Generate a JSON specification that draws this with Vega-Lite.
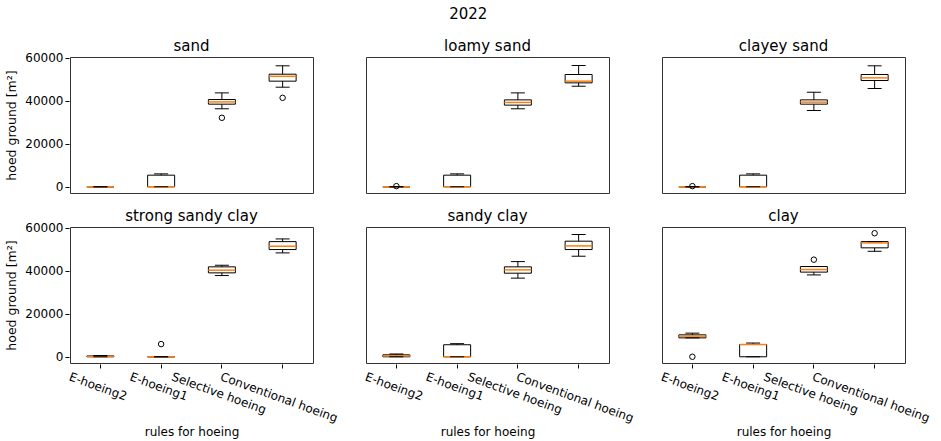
{
  "$schema": "https://vega.github.io/schema/vega-lite/v6.json",
  "background": "white",
  "padding": {"left": 5, "top": 6, "right": 5, "bottom": 2},
  "title": {"text": "2022", "fontSize": 15, "font": "DejaVu Sans", "fontWeight": "normal", "color": "black", "anchor": "middle", "offset": 17},
  "data": {"values": [
    {"soil": "sand", "rule": "E-hoeing2", "lo": 0, "q1": 0, "med": 0, "q3": 0, "hi": 0},
    {"soil": "sand", "rule": "E-hoeing1", "lo": 0, "q1": 0, "med": 0, "q3": 5400, "hi": 6000},
    {"soil": "sand", "rule": "Selective hoeing", "lo": 36300, "q1": 38450, "med": 39500, "q3": 40600, "hi": 43700},
    {"soil": "sand", "rule": "Conventional hoeing", "lo": 46350, "q1": 49150, "med": 51400, "q3": 52400, "hi": 56300},
    {"soil": "sand", "rule": "Selective hoeing", "out": 32100},
    {"soil": "sand", "rule": "Conventional hoeing", "out": 41400},
    {"soil": "loamy sand", "rule": "E-hoeing2", "lo": 0, "q1": 0, "med": 0, "q3": 0, "hi": 0},
    {"soil": "loamy sand", "rule": "E-hoeing1", "lo": 0, "q1": 0, "med": 0, "q3": 5400, "hi": 6000},
    {"soil": "loamy sand", "rule": "Selective hoeing", "lo": 36300, "q1": 38000, "med": 39250, "q3": 40450, "hi": 43700},
    {"soil": "loamy sand", "rule": "Conventional hoeing", "lo": 46800, "q1": 48360, "med": 49150, "q3": 52250, "hi": 56450},
    {"soil": "loamy sand", "rule": "E-hoeing2", "out": 300},
    {"soil": "clayey sand", "rule": "E-hoeing2", "lo": 0, "q1": 0, "med": 0, "q3": 0, "hi": 0},
    {"soil": "clayey sand", "rule": "E-hoeing1", "lo": 0, "q1": 0, "med": 0, "q3": 5400, "hi": 6000},
    {"soil": "clayey sand", "rule": "Selective hoeing", "lo": 35500, "q1": 38450, "med": 39400, "q3": 40450, "hi": 44000},
    {"soil": "clayey sand", "rule": "Conventional hoeing", "lo": 45750, "q1": 49450, "med": 50700, "q3": 52250, "hi": 56300},
    {"soil": "clayey sand", "rule": "E-hoeing2", "out": 300},
    {"soil": "strong sandy clay", "rule": "E-hoeing2", "lo": 0, "q1": 0, "med": 150, "q3": 400, "hi": 600},
    {"soil": "strong sandy clay", "rule": "E-hoeing1", "lo": 0, "q1": 0, "med": 0, "q3": 0, "hi": 0},
    {"soil": "strong sandy clay", "rule": "Selective hoeing", "lo": 37800, "q1": 39050, "med": 40300, "q3": 41850, "hi": 42600},
    {"soil": "strong sandy clay", "rule": "Conventional hoeing", "lo": 48350, "q1": 49900, "med": 51450, "q3": 53600, "hi": 54850},
    {"soil": "strong sandy clay", "rule": "E-hoeing1", "out": 5900},
    {"soil": "sandy clay", "rule": "E-hoeing2", "lo": 0, "q1": 0, "med": 400, "q3": 900, "hi": 1300},
    {"soil": "sandy clay", "rule": "E-hoeing1", "lo": 0, "q1": 0, "med": 0, "q3": 5600, "hi": 6100},
    {"soil": "sandy clay", "rule": "Selective hoeing", "lo": 36600, "q1": 38900, "med": 40450, "q3": 41850, "hi": 44300},
    {"soil": "sandy clay", "rule": "Conventional hoeing", "lo": 46800, "q1": 49900, "med": 51600, "q3": 53800, "hi": 56900},
    {"soil": "clay", "rule": "E-hoeing2", "lo": 8800, "q1": 8800, "med": 9600, "q3": 10200, "hi": 11000},
    {"soil": "clay", "rule": "E-hoeing1", "lo": 0, "q1": 0, "med": 5700, "q3": 5700, "hi": 6400},
    {"soil": "clay", "rule": "Selective hoeing", "lo": 38100, "q1": 39400, "med": 40600, "q3": 42000, "hi": 42000},
    {"soil": "clay", "rule": "Conventional hoeing", "lo": 49100, "q1": 50700, "med": 53000, "q3": 53600, "hi": 53600},
    {"soil": "clay", "rule": "E-hoeing2", "out": 0},
    {"soil": "clay", "rule": "Selective hoeing", "out": 45200},
    {"soil": "clay", "rule": "Conventional hoeing", "out": 57500}
  ]},
  "facet": {
    "field": "soil", "type": "nominal",
    "sort": ["sand", "loamy sand", "clayey sand", "strong sandy clay", "sandy clay", "clay"],
    "header": {"title": null, "labelFontSize": 15, "labelFont": "DejaVu Sans", "labelColor": "black", "labelPadding": 3}
  },
  "columns": 3,
  "spacing": {"column": 51, "row": 14},
  "spec": {
    "width": 243,
    "height": 136,
    "encoding": {
      "x": {
        "field": "rule", "type": "nominal",
        "sort": ["E-hoeing2", "E-hoeing1", "Selective hoeing", "Conventional hoeing"],
        "scale": {"paddingInner": 0, "paddingOuter": 0},
        "title": "rules for hoeing",
        "axis": {
          "labelAngle": 20, "labelAlign": "left", "labelBaseline": "top",
          "labelOffset": {"condition": [{"test": "datum.value === 'Selective hoeing'", "value": -48}, {"test": "datum.value === 'Conventional hoeing'", "value": -60}], "value": -29},
          "labelPadding": 3, "labelFontSize": 12, "labelFont": "DejaVu Sans", "labelColor": "black",
          "tickSize": 4, "tickColor": "black", "domain": false, "grid": false,
          "titleFontSize": 12, "titleFont": "DejaVu Sans", "titleFontWeight": "normal", "titleColor": "black", "titlePadding": 3
        }
      }
    },
    "layer": [
      {
        "transform": [{"filter": "isValid(datum.q1)"}],
        "mark": {"type": "rule", "color": "black", "strokeWidth": 1},
        "encoding": {
          "y": {"field": "lo", "type": "quantitative"},
          "y2": {"field": "hi"}
        }
      },
      {
        "transform": [{"filter": "isValid(datum.q1)"}],
        "mark": {"type": "bar", "fill": "white", "stroke": "black", "strokeWidth": 1, "width": 27},
        "encoding": {
          "y": {"field": "q1", "type": "quantitative"},
          "y2": {"field": "q3"}
        }
      },
      {
        "transform": [{"filter": "isValid(datum.q1)"}],
        "mark": {"type": "tick", "color": "#ff7f0e", "size": 27, "thickness": 1.5, "opacity": 1},
        "encoding": {"y": {"field": "med", "type": "quantitative"}}
      },
      {
        "transform": [{"filter": "isValid(datum.q1)"}],
        "mark": {"type": "tick", "color": "black", "size": 14, "thickness": 1, "opacity": 1},
        "encoding": {"y": {"field": "lo", "type": "quantitative"}}
      },
      {
        "transform": [{"filter": "isValid(datum.q1)"}],
        "mark": {"type": "tick", "color": "black", "size": 14, "thickness": 1, "opacity": 1},
        "encoding": {"y": {"field": "hi", "type": "quantitative"}}
      },
      {
        "transform": [{"filter": "isValid(datum.out)"}],
        "mark": {"type": "point", "shape": "circle", "filled": false, "stroke": "black", "strokeWidth": 1, "size": 30, "opacity": 1},
        "encoding": {
          "y": {
            "field": "out", "type": "quantitative",
            "scale": {"domain": [-2900, 60400], "nice": false, "zero": false},
            "title": "hoed ground [m²]",
            "axis": {
              "values": [0, 20000, 40000, 60000], "format": "d",
              "labelFontSize": 12, "labelFont": "DejaVu Sans", "labelColor": "black",
              "tickSize": 4, "tickColor": "black", "domain": false, "grid": false,
              "titleFontSize": 12.5, "titleFont": "DejaVu Sans", "titleFontWeight": "normal", "titleColor": "black", "titlePadding": 6
            }
          }
        }
      }
    ]
  },
  "resolve": {"scale": {"y": "shared"}},
  "config": {
    "view": {"stroke": "#333", "strokeWidth": 1},
    "font": "DejaVu Sans"
  }
}
